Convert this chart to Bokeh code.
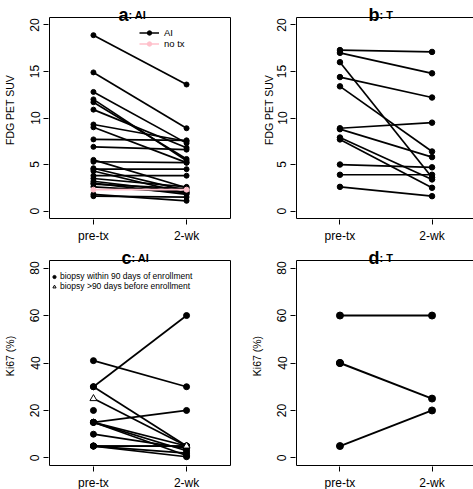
from bokeh.plotting import figure
from bokeh.layouts import gridplot
from bokeh.models import FixedTicker, Label, Legend, LegendItem, Range1d
from bokeh.embed import file_html
from bokeh.resources import INLINE

FONT = "Liberation Sans"

timepoints = ["pre-tx", "2-wk"]

# Panel a: FDG PET SUV, AI group (pre-tx -> 2-wk)
a_ai_pre = [18.9, 14.9, 12.8, 12.0, 11.7, 10.9, 9.3, 9.0, 7.7, 6.9, 5.5, 5.3,
            4.6, 4.5, 4.3, 3.8, 3.5, 3.2, 3.0, 2.9, 2.6, 1.8, 1.6]
a_ai_post = [13.6, 8.9, 7.3, 5.4, 5.6, 6.8, 7.5, 5.2, 7.6, 6.6, 2.5, 5.2,
             2.2, 4.5, 1.9, 3.8, 2.6, 2.0, 1.8, 2.4, 2.0, 1.1, 1.5]
a_notx_pre = [2.3]
a_notx_post = [2.3]

# Panel b: FDG PET SUV, T group
b_pre = [17.3, 17.0, 16.0, 14.4, 13.4, 8.9, 8.8, 7.9, 7.7, 5.0, 3.9, 2.6]
b_post = [17.1, 14.8, 3.6, 12.2, 6.4, 9.5, 5.8, 3.4, 2.5, 4.7, 3.9, 1.6]

# Panel c: Ki67 (%), AI group (None = no 2-wk value)
c_pre = [41, 30, 30, 20, 15, 15, 15, 15, 10, 5, 5, 5, 5]
c_post = [30, 60, 5, None, 20, 5, 3, 1, 4, 5, 5, 2, 0.5]
c_old_pre = [25]     # biopsy >90 days before enrollment
c_old_post = [5]

# Panel d: Ki67 (%), T group
d_pre = [60, 40, 40, 5]
d_post = [60, 25, None, 20]

suv_ticks = [0, 5, 10, 15, 20]
ki_ticks = [0, 20, 40, 60, 80]


def make_panel(letter, group, ylabel, yticks, left, box_w, right, top_px,
               box_h, bottom, lab_standoff, title_x):
    # plotting box (R style: limits expanded by 4 %)
    lo, hi = yticks[0], yticks[-1]
    pad = 0.04 * (hi - lo)
    xpad = 0.04 * 1.8
    bx0, bx1 = 0.6 - xpad, 2.4 + xpad
    by0, by1 = lo - pad, hi + pad
    ux = (bx1 - bx0) / box_w
    uy = (by1 - by0) / box_h
    fw = box_w + 2
    fh = box_h + 1 + top_px
    p = figure(frame_width=fw, frame_height=fh, title=None,
               min_border_left=left, min_border_right=right,
               min_border_top=0, min_border_bottom=bottom,
               x_range=Range1d(bx0 - ux, bx1 + ux),
               y_range=Range1d(by0 - uy, by1 + top_px * uy),
               output_backend="svg", toolbar_location=None,
               background_fill_color="white", border_fill_color="white")
    p.grid.visible = False
    p.outline_line_color = None
    p.quad(left=[bx0], right=[bx1], bottom=[by0], top=[by1],
           fill_color=None, line_color="black", line_width=1)
    for ax in (p.xaxis[0], p.yaxis[0]):
        ax.axis_line_color = None
        ax.major_tick_out = 5
        ax.major_tick_in = 0
        ax.minor_tick_line_color = None
        ax.major_tick_line_color = "black"
        ax.major_label_text_font = FONT
        ax.major_label_text_font_size = "12px"
        ax.major_label_text_color = "black"
        ax.major_label_standoff = 4
    p.xaxis.ticker = FixedTicker(ticks=[1, 2])
    p.xaxis.major_label_overrides = {1: timepoints[0], 2: timepoints[1]}
    p.yaxis.ticker = FixedTicker(ticks=yticks)
    p.yaxis.major_label_orientation = "vertical"
    p.yaxis.axis_label = ylabel
    p.yaxis.axis_label_text_font = FONT
    p.yaxis.axis_label_text_font_style = "normal"
    p.yaxis.axis_label_text_font_size = "10.5px"
    p.yaxis.axis_label_text_color = "black"
    p.yaxis.axis_label_standoff = lab_standoff
    ty = box_h + 1 + 3
    p.add_layout(Label(x=1 + title_x, y=ty, x_units="screen", y_units="screen",
                       text=letter, text_font=FONT, text_font_style="bold",
                       text_font_size="18px", text_align="right",
                       text_baseline="alphabetic", text_color="black"))
    p.add_layout(Label(x=1 + title_x, y=ty, x_units="screen", y_units="screen",
                       text=": " + group, text_font=FONT,
                       text_font_style="bold", text_font_size="11px",
                       text_align="left", text_baseline="alphabetic",
                       text_color="black"))
    return p


def draw_pairs(p, pre, post, color, size, lw, marker="circle", fill=True):
    x_pre, x_post = 1, 2
    xs, ys = [], []
    for a, b in zip(pre, post):
        if a is not None and b is not None:
            xs.append([x_pre, x_post])
            ys.append([a, b])
    p.multi_line(xs=xs, ys=ys, line_color=color, line_width=lw)
    px = [x_pre] * len(pre) + [x_post] * len([b for b in post if b is not None])
    py = list(pre) + [b for b in post if b is not None]
    p.scatter(px, py, marker=marker, size=size, line_color=color,
              fill_color=color if fill else "white", line_width=1)
    return xs, ys, px, py


def legend_proxy(p, xs, ys, px, py, color, size, marker="circle", fill=True,
                 line=True):
    # invisible copies of the data renderers, only used for legend glyphs
    rs = []
    if line:
        rs.append(p.multi_line(xs=xs, ys=ys, line_color=color, line_width=1.5,
                               visible=False))
    rs.append(p.scatter(px, py, marker=marker, size=size, line_color=color,
                        fill_color=color if fill else None, line_width=1,
                        visible=False))
    return rs


# ---- Panel a ----
pa = make_panel("a", "AI", "FDG PET SUV", suv_ticks, 45, 181, 8, 17, 201, 26,
                12, 79)
axs, ays, apx, apy = draw_pairs(pa, a_ai_pre, a_ai_post, "black", 5, 1.7)
nxs, nys, npx, npy = draw_pairs(pa, a_notx_pre, a_notx_post, "pink", 5, 1.7)
leg_a = Legend(items=[LegendItem(label="AI",
                                 renderers=legend_proxy(pa, axs, ays, apx, apy,
                                                        "black", 4.5)),
                      LegendItem(label="no tx",
                                 renderers=legend_proxy(pa, nxs, nys, npx, npy,
                                                        "pink", 4.5))],
               location=(91, 170), border_line_color=None,
               background_fill_alpha=0, padding=2, spacing=0, margin=0,
               label_text_font=FONT, label_text_font_size="9.5px",
               label_text_color="black",
               glyph_width=20, glyph_height=11, label_height=11,
               label_standoff=5)
pa.add_layout(leg_a)

# ---- Panel b ----
pb = make_panel("b", "T", "FDG PET SUV", suv_ticks, 56, 179, 0, 17, 201, 26,
                0, 83)
draw_pairs(pb, b_pre, b_post, "black", 5.5, 1.7)

# ---- Panel c ----
pc = make_panel("c", "AI", "Ki67 (%)", ki_ticks, 45, 181, 8, 15, 205, 23,
                12, 82)
cxs, cys, cpx, cpy = draw_pairs(pc, c_pre, c_post, "black", 6, 1.7)
txs, tys, tpx, tpy = draw_pairs(pc, c_old_pre, c_old_post, "black", 7,
                                1.7, marker="triangle", fill=False)
leg_c = Legend(items=[LegendItem(label="biopsy within 90 days of enrollment",
                                 renderers=legend_proxy(pc, cxs, cys, cpx, cpy,
                                                        "black", 4,
                                                        line=False)),
                      LegendItem(label="biopsy >90 days before enrollment",
                                 renderers=legend_proxy(pc, txs, tys, tpx, tpy,
                                                        "black", 6,
                                                        marker="triangle",
                                                        fill=False,
                                                        line=False))],
               location=(2, 175), border_line_color=None,
               background_fill_alpha=0, padding=2, spacing=0, margin=0,
               label_text_font=FONT, label_text_font_size="8.5px",
               label_text_color="black",
               glyph_width=8, glyph_height=9, label_height=9,
               label_standoff=2)
pc.add_layout(leg_c)

# ---- Panel d ----
pd_ = make_panel("d", "T", "Ki67 (%)", ki_ticks, 56, 179, 0, 15, 205, 23,
                 12, 83)
draw_pairs(pd_, d_pre, d_post, "black", 7, 1.9)

grid = gridplot([[pa, pb], [pc, pd_]], toolbar_location=None)

open("out.html", "w").write(file_html(grid, INLINE))
